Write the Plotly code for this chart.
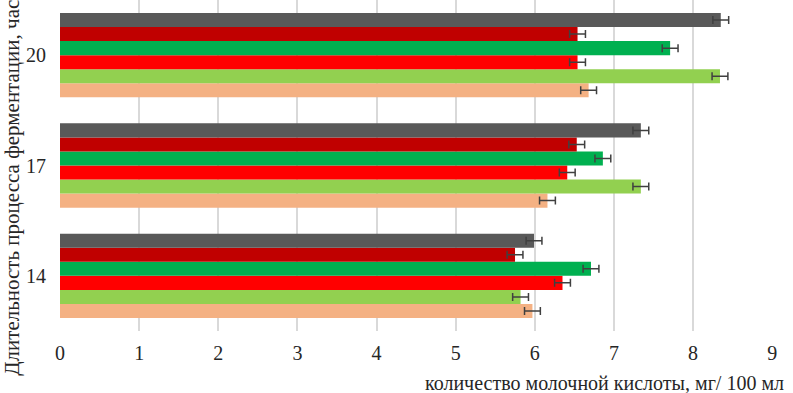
import plotly.graph_objects as go

categories = ["14", "17", "20"]
# series listed bottom-to-top within each group
series_names = ["Серия 6", "Серия 5", "Серия 4", "Серия 3", "Серия 2", "Серия 1"]
series_colors = ["#F4B183", "#92D050", "#FF0000", "#00B050", "#C00000", "#595959"]
peach = [5.97, 6.16, 6.68]
light_green = [5.82, 7.34, 8.34]
red = [6.35, 6.41, 6.54]
green = [6.71, 6.86, 7.71]
dark_red = [5.75, 6.53, 6.54]
dark_gray = [5.99, 7.34, 8.35]
errors = [0.1, 0.1, 0.1]

x_ticks = list(range(0, 10))
x_title = "количество молочной кислоты, мг/ 100 мл"
y_title = "Длительность процесса ферментации, час"

series_values = [peach, light_green, red, green, dark_red, dark_gray]

fig = go.Figure()
for name, color, vals in zip(series_names, series_colors, series_values):
    fig.add_trace(go.Bar(
        y=categories, x=vals, orientation="h", name=name,
        marker=dict(color=color, line=dict(width=0)),
        error_x=dict(type="data", array=errors, visible=True,
                     color="#404040", thickness=1.5, width=4),
        hoverinfo="skip",
    ))

ff = "serif"
fs = 20
fig.update_layout(
    width=793, height=393,
    barmode="group", bargap=0.236, bargroupgap=0,
    plot_bgcolor="white", paper_bgcolor="white",
    showlegend=False,
    margin=dict(l=60, r=20, t=0, b=62, autoexpand=False),
    font=dict(family=ff, size=fs, color="#262626"),
    xaxis=dict(range=[0, 9.01], tickvals=x_ticks, ticktext=[str(t) for t in x_ticks],
               showgrid=True, gridcolor="#D9D9D9", gridwidth=1.5,
               zeroline=False, showline=False, ticks="", ticklen=0,
               ticklabelstandoff=8,
               automargin=False, tickfont=dict(family=ff, size=fs)),
    yaxis=dict(categoryorder="array", categoryarray=categories,
               range=[-0.5, 2.5], showgrid=False, zeroline=False,
               showline=False, ticks="", ticklabelstandoff=13, automargin=False,
               tickfont=dict(family=ff, size=fs)),
    annotations=[
        dict(text=x_title, xref="paper", yref="paper", x=0.764, y=-0.157,
             xanchor="center", yanchor="middle", showarrow=False,
             font=dict(family=ff, size=fs)),
        dict(text=y_title, xref="paper", yref="paper", x=-0.0683, y=0.4335,
             xanchor="center", yanchor="middle", showarrow=False, textangle=-90,
             font=dict(family=ff, size=21)),
    ],
)
fig.write_html("out.html", config={"displayModeBar": False},
               post_script="document.body.style.margin='0';")
